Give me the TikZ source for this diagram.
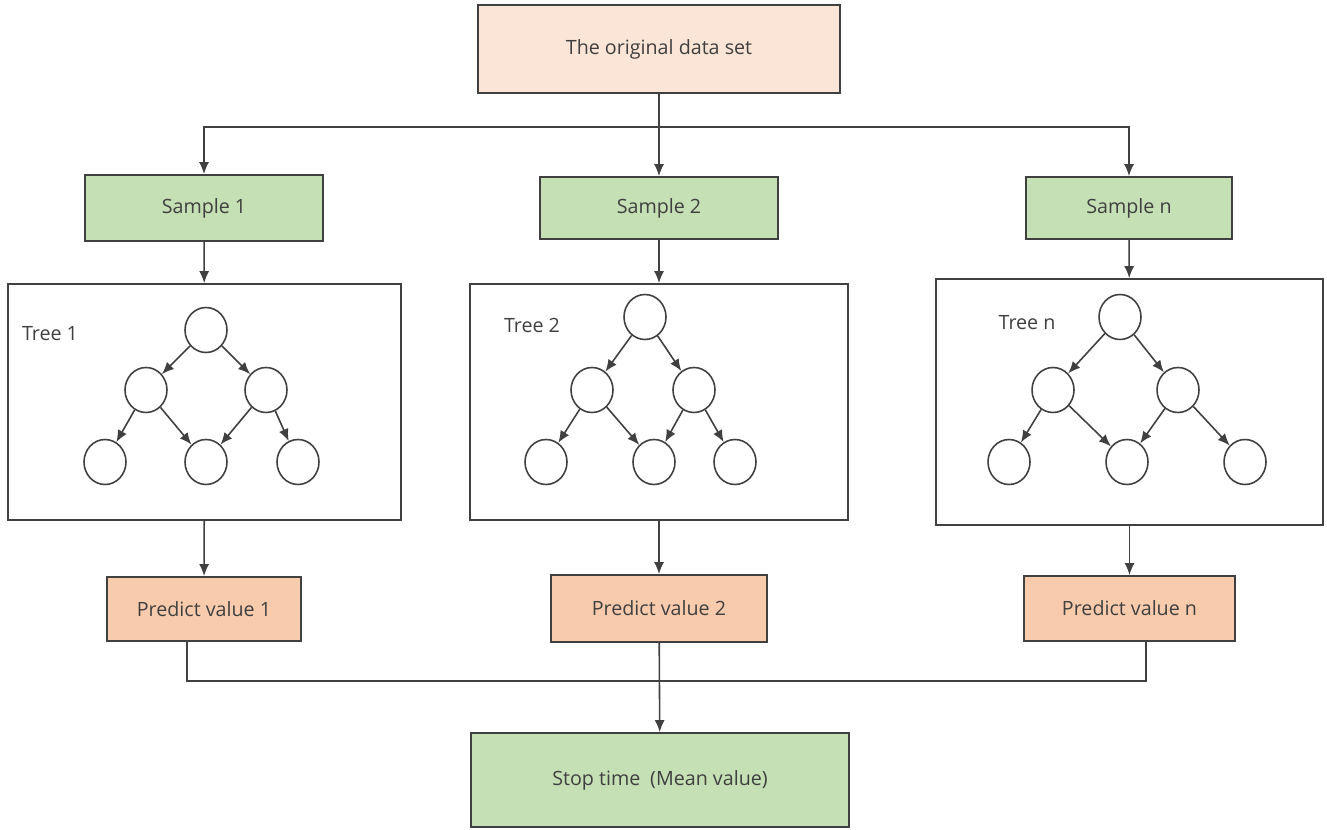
\documentclass[tikz,border=0pt]{standalone}
\usepackage{fontspec}
\setmainfont{Open Sans}
\usepackage{xcolor}
\usetikzlibrary{arrows.meta,shapes.geometric}
\definecolor{peach}{HTML}{FBE5D6}
\definecolor{salmon}{HTML}{F8CBAD}
\definecolor{leaf}{HTML}{C5E0B4}
\definecolor{ink}{HTML}{404040}
\tikzset{
  box/.style={draw=ink,line width=1pt,text=ink,font=\fontsize{11.2}{13}\selectfont,inner sep=0pt},
  treebox/.style={draw=ink,line width=1pt,inner sep=0pt},
  knot/.style={ellipse,draw=ink,line width=0.9pt,minimum width=0.84cm,minimum height=0.9cm,inner sep=0pt},
  wire/.style={draw=ink,line width=0.9pt},
  arrow/.style={wire,-{Latex[length=2.4mm,width=2mm]}}
}
\begin{document}
\begin{tikzpicture}[x=0.02cm,y=-0.02cm]
    \useasboundingbox (0,0) rectangle (1327,829);
    % boxes
    \node[box,fill=peach,minimum width=7.24cm,minimum height=1.76cm] (data) at (659,49) {The original data set};
    \node[box,fill=leaf,minimum width=4.76cm,minimum height=1.32cm] (s1) at (204,208) {Sample 1};
    \node[box,fill=leaf,minimum width=4.76cm,minimum height=1.24cm] (s2) at (659,208) {Sample 2};
    \node[box,fill=leaf,minimum width=4.12cm,minimum height=1.24cm] (sn) at (1129,208) {Sample n};
    \node[treebox,minimum width=7.86cm,minimum height=4.72cm] (tree1) at (204.5,402) {};
    \node[treebox,minimum width=7.56cm,minimum height=4.72cm] (tree2) at (659,402) {};
    \node[treebox,minimum width=7.74cm,minimum height=4.92cm] (treen) at (1129.5,402) {};
    \node[box,fill=salmon,minimum width=3.88cm,minimum height=1.28cm] (p1) at (204,609) {Predict value 1};
    \node[box,fill=salmon,minimum width=4.32cm,minimum height=1.34cm] (p2) at (659,608.5) {Predict value 2};
    \node[box,fill=salmon,minimum width=4.22cm,minimum height=1.30cm] (pn) at (1129.5,608.5) {Predict value n};
    \node[box,fill=leaf,minimum width=7.56cm,minimum height=1.88cm] (stop) at (660,780) {Stop time\enspace(Mean value)};

    % tree 1
    \node[text=ink,font=\fontsize{11.2}{13}\selectfont] (lab1) at (50,334) {Tree 1};
    \node[knot] (r1) at (206,330) {};
    \node[knot] (a1) at (146,390) {};
    \node[knot] (b1) at (266,390) {};
    \node[knot] (c1) at (105,462) {};
    \node[knot] (d1) at (206,462) {};
    \node[knot] (e1) at (298,462) {};
    % tree 2
    \node[text=ink,font=\fontsize{11.2}{13}\selectfont] (lab2) at (532,325) {Tree 2};
    \node[knot] (r2) at (645,317) {};
    \node[knot] (a2) at (592,390) {};
    \node[knot] (b2) at (694,390) {};
    \node[knot] (c2) at (546,462) {};
    \node[knot] (d2) at (654,462) {};
    \node[knot] (e2) at (735,462) {};
    % tree n
    \node[text=ink,font=\fontsize{11.2}{13}\selectfont] (labn) at (1027,323) {Tree n};
    \node[knot] (rn) at (1120,317) {};
    \node[knot] (an) at (1053,390) {};
    \node[knot] (bn) at (1178,390) {};
    \node[knot] (cn) at (1009,462) {};
    \node[knot] (dn) at (1127,462) {};
    \node[knot] (en) at (1245,462) {};

    \foreach \t in {1,2,n}{
      \draw[arrow] (r\t) -- (a\t);
      \draw[arrow] (r\t) -- (b\t);
      \draw[arrow] (a\t) -- (c\t);
      \draw[arrow] (a\t) -- (d\t);
      \draw[arrow] (b\t) -- (d\t);
      \draw[arrow] (b\t) -- (e\t);
    }

    % connectors
    \coordinate (split) at (659,127);
    \coordinate (join) at (659,681);
    \draw[arrow] (data) -- (s2);
    \draw[arrow] (split) -| (s1);
    \draw[arrow] (split) -| (sn);
    \draw[arrow] (s1) -- (tree1);
    \draw[arrow] (s2) -- (tree2);
    \draw[arrow] (sn) -- (treen);
    \draw[arrow] (tree1) -- (p1);
    \draw[arrow] (tree2) -- (p2);
    \draw[arrow] (treen) -- (pn);
    \draw[wire] ([xshift=-0.34cm]p1.south) |- (join) -| ([xshift=0.33cm]pn.south);
    \draw[arrow] (p2) -- (stop);
\end{tikzpicture}
\end{document}
